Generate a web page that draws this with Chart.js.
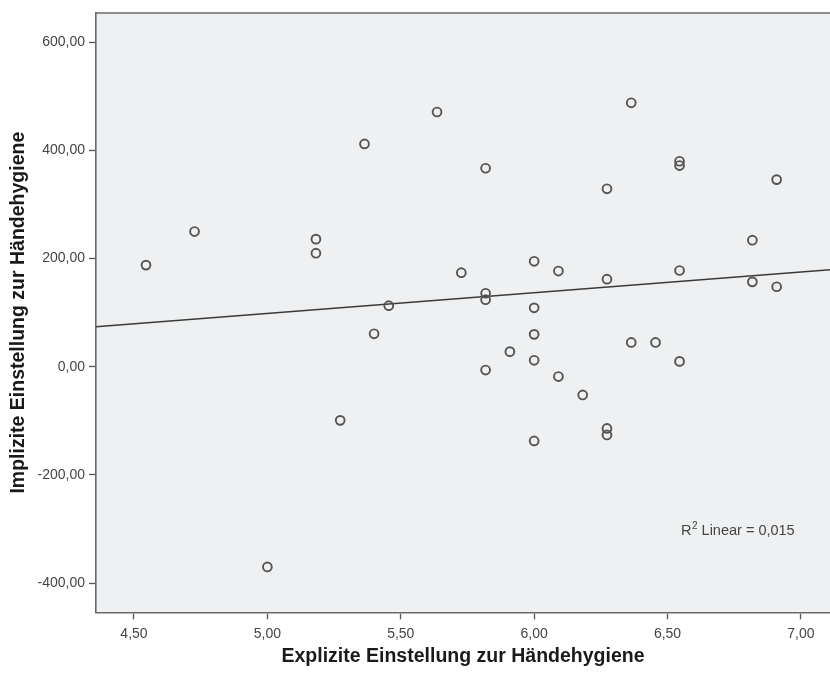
<!DOCTYPE html>
<html><head><meta charset="utf-8">
<script src="https://cdn.jsdelivr.net/npm/chart.js@4/dist/chart.umd.min.js"></script>
<style>html,body{margin:0;padding:0;background:#fff;overflow:hidden}#wrap{width:830px;height:675px;position:relative}canvas{display:block}</style>
</head><body><div id="wrap"><canvas id="c" width="830" height="675"></canvas></div>
<script>
// Explicit attitude (x) and implicit attitude (y) per respondent
const xValues = [4.545, 4.727, 5.000, 5.182, 5.182, 5.273, 5.364, 5.400, 5.455, 5.636,
                 5.727, 5.818, 5.818, 5.818, 5.818, 5.909, 6.000, 6.000, 6.000, 6.000,
                 6.000, 6.091, 6.091, 6.182, 6.273, 6.273, 6.273, 6.273, 6.364, 6.364,
                 6.455, 6.545, 6.545, 6.545, 6.545, 6.818, 6.818, 6.909, 6.909];
const yValues = [188, 250, -370, 236, 210, -99, 412, 61, 113, 471,
                 174, 367, 136, 124, -6, 28, 195, 109, 60, 12,
                 -137, 177, -18, -52, 329, 162, -114, -126, 488, 45,
                 45, 380, 372, 178, 10, 234, 157, 346, 148];
// Linear fit line, read at the plot edges
const fitX = [4.3576, 7.109];
const fitY = [74, 179.5];
const xTicks = [4.5, 5.0, 5.5, 6.0, 6.5, 7.0];
const yTicks = [-400, -200, 0, 200, 400, 600];
const xTitle = 'Explizite Einstellung zur Händehygiene';
const yTitle = 'Implizite Einstellung zur Händehygiene';
const r2Text = ['R', '2', ' Linear = 0,015'];

const FONT = '"Liberation Sans", Arial, sans-serif';
const fmt = v => Number(v).toFixed(2).replace('.', ',');

const bgPlugin = {
  id: 'bg',
  beforeDraw(chart) {
    const {ctx, chartArea: a} = chart;
    ctx.save();
    ctx.fillStyle = '#eef0f2';
    ctx.fillRect(a.left, a.top, a.right - a.left, a.bottom - a.top);
    ctx.restore();
  },
  afterDraw(chart) {
    const {ctx, chartArea: a} = chart;
    ctx.save();
    ctx.strokeStyle = '#6a6a6a';
    ctx.lineWidth = 1.6;
    ctx.beginPath();
    ctx.moveTo(a.left, a.top);
    ctx.lineTo(a.right + 2, a.top);
    ctx.stroke();
    // R² annotation
    ctx.fillStyle = '#444';
    ctx.textBaseline = 'alphabetic';
    let x = 681, y = 535;
    ctx.font = '14.5px ' + FONT;
    ctx.fillText(r2Text[0], x, y);
    x += ctx.measureText(r2Text[0]).width;
    ctx.font = '10px ' + FONT;
    ctx.fillText(r2Text[1], x + 0.5, y - 6);
    x += ctx.measureText(r2Text[1]).width + 0.5;
    ctx.font = '14.5px ' + FONT;
    ctx.fillText(r2Text[2], x, y);
    ctx.restore();
  }
};

new Chart(document.getElementById('c'), {
  type: 'scatter',
  data: {
    datasets: [
      {
        type: 'line',
        data: fitX.map((v, i) => ({x: v, y: fitY[i]})),
        borderColor: '#3a3a3a',
        borderWidth: 1.4,
        pointRadius: 0,
        fill: false,
        order: 2
      },
      {
        data: xValues.map((v, i) => ({x: v, y: yValues[i]})),
        pointStyle: 'circle',
        pointRadius: 4.4,
        pointBorderWidth: 1.9,
        borderColor: '#555555',
        backgroundColor: 'rgba(0,0,0,0)',
        pointHoverRadius: 4.4,
        order: 1
      }
    ]
  },
  options: {
    responsive: false,
    animation: false,
    events: [],
    layout: {autoPadding: false, padding: {top: 13, right: 0, bottom: 0, left: 0}},
    plugins: {legend: {display: false}, tooltip: {enabled: false}},
    scales: {
      x: {
        type: 'linear',
        min: 4.3576, max: 7.109,
        afterBuildTicks: s => { s.ticks = xTicks.map(v => ({value: v})); },
        afterFit: s => { s.height = 62.7; s.paddingRight = 0; s.paddingLeft = 0; },
        grid: {drawOnChartArea: false, drawTicks: true, tickLength: 7, tickColor: '#555', tickWidth: 1.3},
        border: {display: true, color: '#6a6a6a', width: 1.6},
        ticks: {callback: v => fmt(v), color: '#444', font: {family: FONT, size: 14}, padding: 6, maxRotation: 0, autoSkip: false},
        title: {display: true, text: xTitle, color: '#1a1a1a', font: {family: FONT, size: 19.5, weight: 'bold'}, padding: {top: 0, bottom: 7}}
      },
      y: {
        type: 'linear',
        min: -453.8, max: 654,
        afterBuildTicks: s => { s.ticks = yTicks.map(v => ({value: v})); },
        afterFit: s => { s.width = 96; s.paddingTop = 0; s.paddingBottom = 0; },
        grid: {drawOnChartArea: false, drawTicks: true, tickLength: 7, tickColor: '#555', tickWidth: 1.3},
        border: {display: true, color: '#6a6a6a', width: 1.6},
        ticks: {callback: v => fmt(v), color: '#444', font: {family: FONT, size: 14}, padding: 4, autoSkip: false},
        title: {display: true, text: yTitle, color: '#1a1a1a', font: {family: FONT, size: 19.5, weight: 'bold'}, padding: {top: 7, bottom: 0}}
      }
    }
  },
  plugins: [bgPlugin]
});
</script>
</body></html>
